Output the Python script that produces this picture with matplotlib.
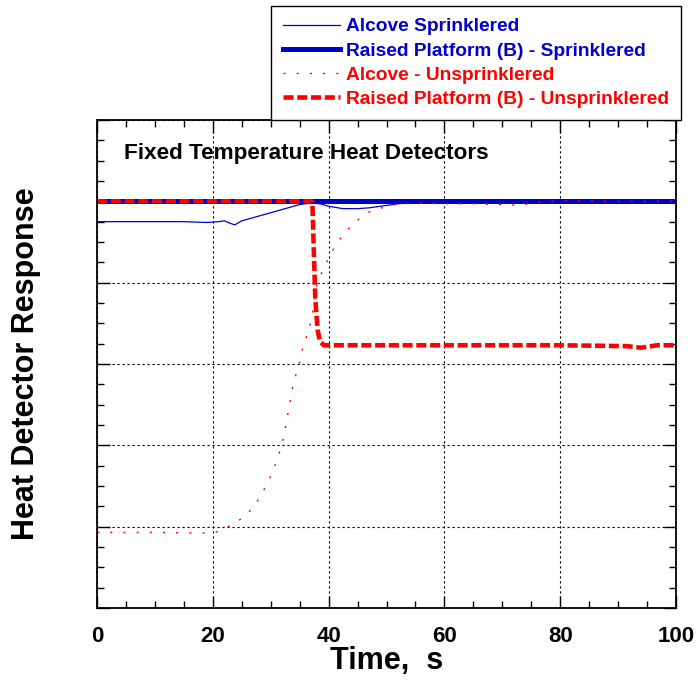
import numpy as np
import matplotlib.pyplot as plt
from matplotlib.ticker import MultipleLocator, NullFormatter

plt.rcParams['font.family'] = ['Liberation Sans', 'DejaVu Sans']
plt.rcParams['font.weight'] = 'bold'

# Alcove - Sprinklered (thin blue)
t_alc_spr = [0, 5, 10, 15, 19, 21, 22, 23, 23.8, 25, 27, 29, 31, 33, 35, 37,
             38.5, 40, 42.5, 45, 47, 49, 52, 55, 60, 100]
v_alc_spr = [4.75, 4.75, 4.75, 4.75, 4.74, 4.75, 4.76, 4.73, 4.71, 4.76, 4.80,
             4.84, 4.88, 4.92, 4.96, 4.98, 4.97, 4.94, 4.91, 4.91, 4.92, 4.94,
             4.97, 4.99, 5.0, 5.0]

# Raised Platform (B) - Sprinklered (thick blue)
t_rp_spr = [0, 100]
v_rp_spr = [5.0, 5.0]

# Alcove - Unsprinklered (red dotted)
t_alc_uns = [0, 10, 19, 21, 23.7, 25.8, 27.5, 28.8, 30, 31, 32, 33, 33.8, 34.4,
             35.1, 35.5, 36.2, 36.9, 37.3, 38, 38.9, 40, 41.1, 42.7, 44.8, 47,
             49.2, 51.5, 55, 60, 65, 70, 73, 76, 80, 90, 100]
v_alc_uns = [0.93, 0.93, 0.92, 0.94, 1.04, 1.14, 1.29, 1.45, 1.62, 1.8, 2.02,
             2.4, 2.72, 2.88, 3.04, 3.19, 3.34, 3.51, 3.66, 3.98, 4.14, 4.30,
             4.45, 4.61, 4.76, 4.87, 4.92, 4.96, 4.98, 4.97, 4.97, 4.96, 4.95,
             4.99, 5.01, 5.0, 5.0]

# Raised Platform (B) - Unsprinklered (red dashed)
t_rp_uns = [0, 37.2, 37.4, 37.7, 38.1, 38.5, 39.2, 60, 80, 91.5, 94, 96.7, 100]
v_rp_uns = [5.0, 5.0, 4.5, 3.8, 3.42, 3.28, 3.23, 3.23, 3.23, 3.22, 3.20, 3.23, 3.23]

x_ticks = [0, 20, 40, 60, 80, 100]

blue = '#0000CC'
red = '#FF0000'

fig = plt.figure(figsize=(6.98, 6.96), dpi=100)
ax = fig.add_axes([97/698, 88/696, 579/698, 488/696])

ax.plot(t_alc_spr, v_alc_spr, color=blue, lw=0.9, label='Alcove Sprinklered')
ax.plot(t_rp_spr, v_rp_spr, color=blue, lw=3.6, label='Raised Platform (B) - Sprinklered')
ax.plot(t_alc_uns, v_alc_uns, color=red, lw=1.0, linestyle=(0, (1.5, 8)),
        label='Alcove - Unsprinklered')
ax.plot(t_rp_uns, v_rp_uns, color=red, lw=3.3, linestyle=(0, (2.2, 0.8)),
        label='Raised Platform (B) - Unsprinklered')

ax.set_xlim(0, 100)
ax.set_ylim(0, 6)
ax.set_xticks(x_ticks)
ax.xaxis.set_minor_locator(MultipleLocator(5))
ax.yaxis.set_major_locator(MultipleLocator(1))
ax.yaxis.set_minor_locator(MultipleLocator(0.25))
ax.yaxis.set_major_formatter(NullFormatter())
ax.grid(True, which='major', color='black', lw=0.8, linestyle=(0, (2, 2.5)))
ax.tick_params(which='both', direction='in', top=True, right=True, width=1)
ax.tick_params(which='major', length=9, labelsize=16, pad=13)
ax.tick_params(which='minor', length=5)
for lbl in ax.get_xticklabels():
    lbl.set_fontweight('bold')
for s in ax.spines.values():
    s.set_linewidth(1.3)

ax.text(0.047, 0.920, 'Fixed Temperature Heat Detectors', transform=ax.transAxes,
        fontsize=16.2, fontweight='bold', va='baseline')

ax.set_xlabel('Time,  s', fontsize=22, fontweight='bold')
ax.xaxis.set_label_coords(0.5, -0.078)
ax.set_ylabel('Heat Detector Response', fontsize=22, fontweight='bold')
ax.yaxis.set_label_coords(-0.097, 0.5)

leg = fig.legend(loc='upper left', bbox_to_anchor=(271/698, 1 - 6/696),
                 prop={'size': 13.8, 'weight': 'bold'}, frameon=True,
                 fancybox=False, edgecolor='black', framealpha=1,
                 handlelength=2.97, handletextpad=0.31, labelspacing=0.35,
                 borderpad=0.63, borderaxespad=0)
leg.get_frame().set_linewidth(1.0)
for txt, c in zip(leg.get_texts(), [blue, blue, red, red]):
    txt.set_color(c)

fig.savefig('out.png', dpi=100)
